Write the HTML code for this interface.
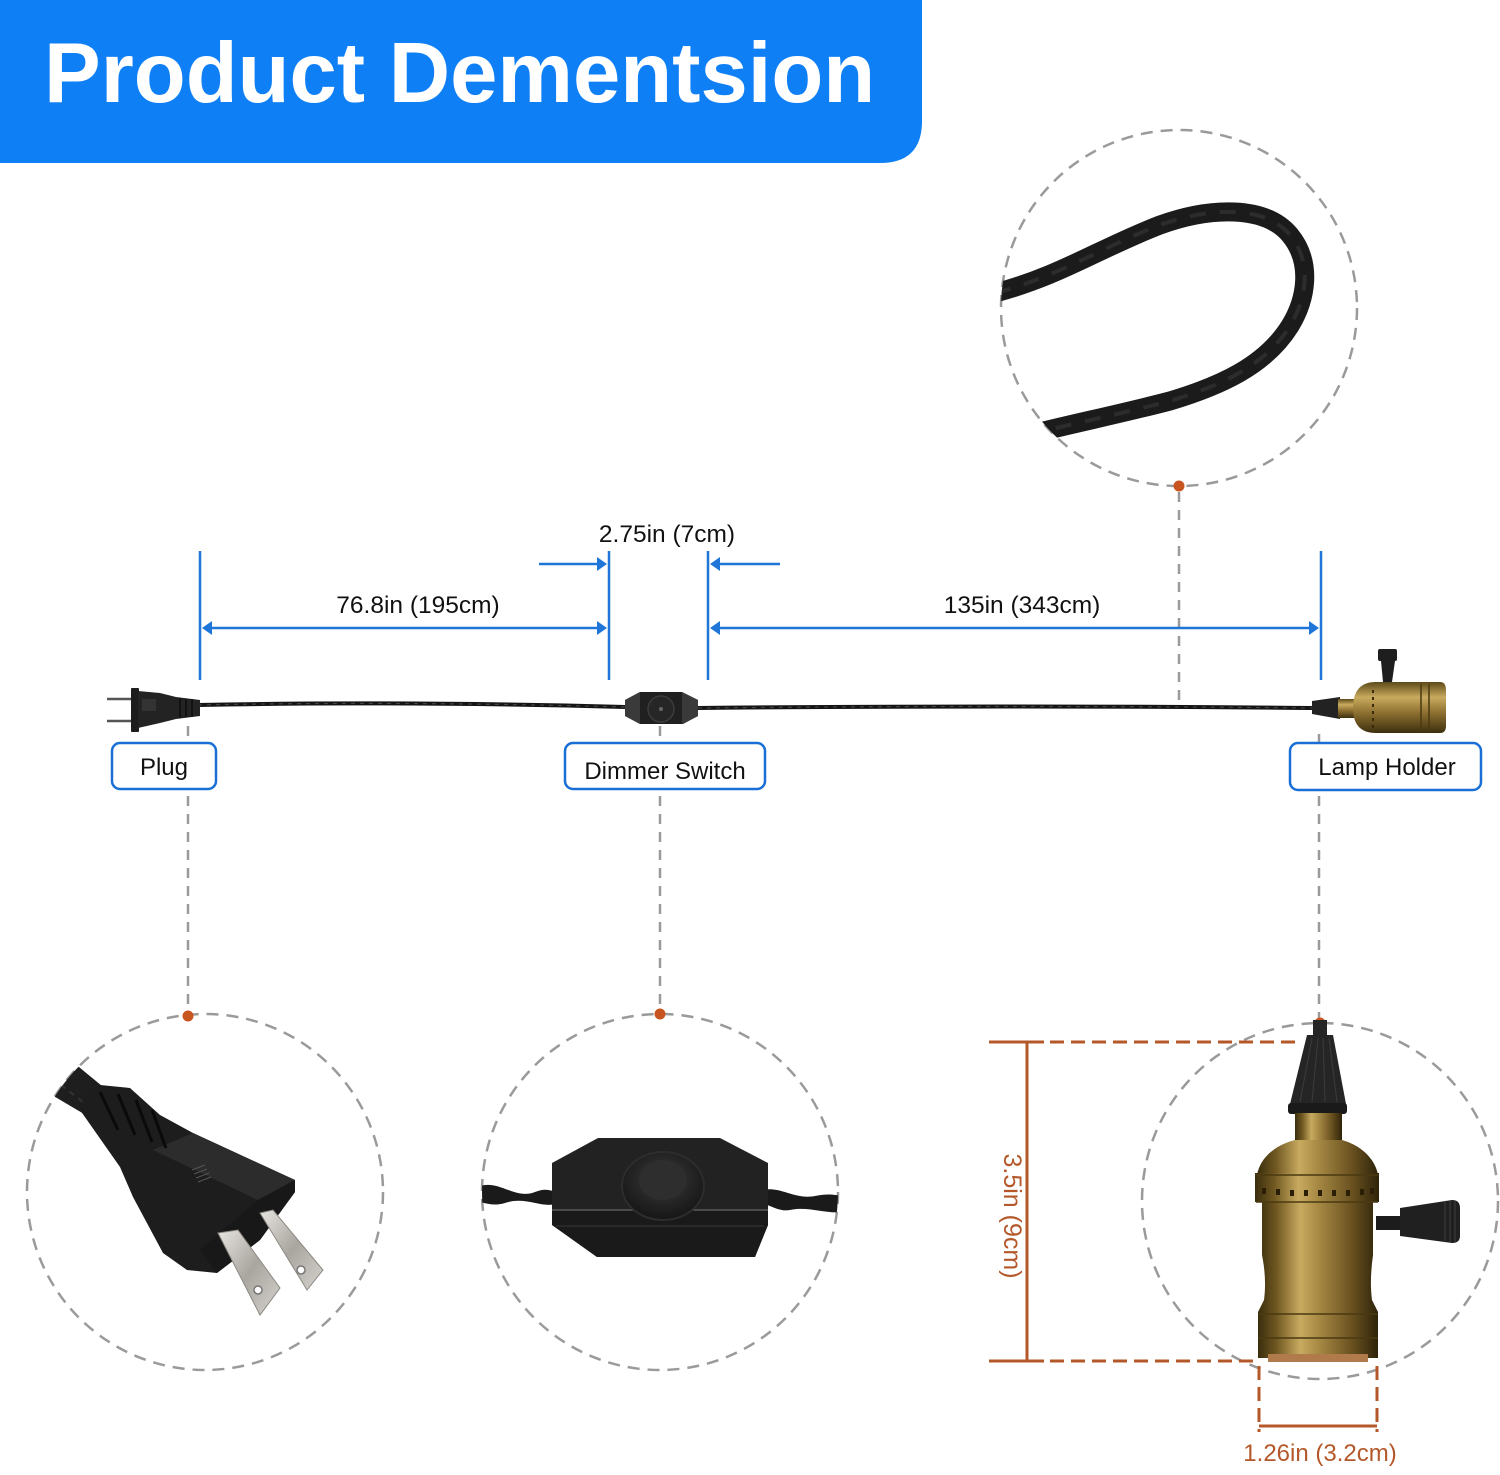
<!DOCTYPE html>
<html>
<head>
<meta charset="utf-8">
<style>
  html, body { margin:0; padding:0; background:#ffffff; }
  body { width:1500px; height:1475px; overflow:hidden; }
  svg { display:block; }
  text { font-family: "Liberation Sans", Arial, sans-serif; }
</style>
</head>
<body>
<svg width="1500" height="1475" viewBox="0 0 1500 1475" xmlns="http://www.w3.org/2000/svg">
  <defs>
    <linearGradient id="goldH" x1="0" y1="0" x2="1" y2="0">
      <stop offset="0" stop-color="#3b2e0e"/>
      <stop offset="0.15" stop-color="#6e5620"/>
      <stop offset="0.35" stop-color="#c8aa60"/>
      <stop offset="0.5" stop-color="#a88a45"/>
      <stop offset="0.78" stop-color="#6a5220"/>
      <stop offset="1" stop-color="#2e230a"/>
    </linearGradient>
    <linearGradient id="goldV" x1="0" y1="0" x2="0" y2="1">
      <stop offset="0" stop-color="#5e4a18"/>
      <stop offset="0.3" stop-color="#c9ab5f"/>
      <stop offset="0.6" stop-color="#8e7031"/>
      <stop offset="1" stop-color="#3d2f0e"/>
    </linearGradient>
    <linearGradient id="metal" x1="0" y1="0" x2="1" y2="1">
      <stop offset="0" stop-color="#e8e6e2"/>
      <stop offset="0.5" stop-color="#a9a59f"/>
      <stop offset="1" stop-color="#d6d3ce"/>
    </linearGradient>
    <radialGradient id="knobG" cx="0.5" cy="0.4" r="0.6">
      <stop offset="0" stop-color="#3a3a3a"/>
      <stop offset="1" stop-color="#161616"/>
    </radialGradient>
    <clipPath id="topClip"><circle cx="1179" cy="308" r="178"/></clipPath>
    <clipPath id="plugClip"><circle cx="205" cy="1192" r="178"/></clipPath>
    <clipPath id="dimClip"><circle cx="660" cy="1192" r="178"/></clipPath>
  </defs>

  <!-- Header -->
  <path d="M0,0 H922 V121 Q922,163 880,163 H0 Z" fill="#0f7ff6"/>
  <text x="44" y="102" font-size="85" font-weight="bold" fill="#ffffff">Product Dementsion</text>

  <!-- Dashed circles -->
  <g fill="none" stroke="#9a9a9a" stroke-width="2.5" stroke-dasharray="12 8">
    <circle cx="1179" cy="308" r="178"/>
    <circle cx="205" cy="1192" r="178"/>
    <circle cx="660" cy="1192" r="178"/>
    <circle cx="1320" cy="1201" r="178"/>
  </g>

  <!-- Gray dashed connectors -->
  <g stroke="#9a9a9a" stroke-width="2.5" stroke-dasharray="10 8" fill="none">
    <line x1="1179" y1="492" x2="1179" y2="705"/>
    <line x1="188" y1="726" x2="188" y2="740"/>
    <line x1="188" y1="796" x2="188" y2="1012"/>
    <line x1="660" y1="726" x2="660" y2="740"/>
    <line x1="660" y1="796" x2="660" y2="1010"/>
    <line x1="1319" y1="734" x2="1319" y2="742"/>
    <line x1="1319" y1="796" x2="1319" y2="1018"/>
  </g>

  <!-- Orange dots -->
  <g fill="#c8541f">
    <circle cx="1179" cy="486" r="5.5"/>
    <circle cx="188" cy="1016" r="5.5"/>
    <circle cx="660" cy="1014" r="5.5"/>
    <circle cx="1320" cy="1023" r="5.5"/>
  </g>

  <!-- Top circle: twisted cable -->
  <g clip-path="url(#topClip)">
    <path d="M995,293 C1060,276 1100,248 1160,225 C1210,207 1265,205 1290,235 C1313,263 1306,300 1290,326 C1265,366 1220,386 1170,401 C1120,414 1080,422 1040,432"
          fill="none" stroke="#1b1b1b" stroke-width="19" stroke-linecap="butt"/>
    <path d="M995,293 C1060,276 1100,248 1160,225 C1210,207 1265,205 1290,235 C1313,263 1306,300 1290,326 C1265,366 1220,386 1170,401 C1120,414 1080,422 1040,432"
          fill="none" stroke="#2c2c2c" stroke-width="4" stroke-dasharray="16 14"/>
  </g>

  <!-- Blue dimension lines -->
  <g stroke="#1f76d8" stroke-width="2.5" fill="none">
    <line x1="200" y1="551" x2="200" y2="680"/>
    <line x1="609" y1="551" x2="609" y2="680"/>
    <line x1="708" y1="551" x2="708" y2="680"/>
    <line x1="1321" y1="551" x2="1321" y2="680"/>
    <line x1="206" y1="628" x2="603" y2="628"/>
    <line x1="714" y1="628" x2="1315" y2="628"/>
    <line x1="539" y1="564" x2="600" y2="564"/>
    <line x1="716" y1="564" x2="780" y2="564"/>
  </g>
  <g fill="#1f76d8">
    <polygon points="202,628 212,621 212,635"/>
    <polygon points="607,628 597,621 597,635"/>
    <polygon points="710,628 720,621 720,635"/>
    <polygon points="1319,628 1309,621 1309,635"/>
    <polygon points="607,564 597,557 597,571"/>
    <polygon points="710,564 720,557 720,571"/>
  </g>

  <!-- Dimension texts -->
  <g font-size="24.5" fill="#111111" text-anchor="middle">
    <text x="418" y="613">76.8in (195cm)</text>
    <text x="667" y="542">2.75in (7cm)</text>
    <text x="1022" y="613">135in (343cm)</text>
  </g>

  <!-- Main cable -->
  <path d="M198,705 Q400,701 625,707" fill="none" stroke="#151515" stroke-width="4"/>
  <path d="M698,708 Q1000,705 1314,708" fill="none" stroke="#151515" stroke-width="4"/>
  <path d="M198,705 Q400,701 625,707" fill="none" stroke="#444" stroke-width="1.2" stroke-dasharray="4 5"/>
  <path d="M698,708 Q1000,705 1314,708" fill="none" stroke="#444" stroke-width="1.2" stroke-dasharray="4 5"/>

  <!-- Small plug -->
  <g>
    <line x1="107" y1="699" x2="133" y2="699" stroke="#555" stroke-width="2.5"/>
    <line x1="107" y1="721" x2="133" y2="721" stroke="#555" stroke-width="2.5"/>
    <rect x="131" y="688" width="8" height="44" rx="1" fill="#1c1c1c"/>
    <polygon points="138,691 160,693 176,697 200,700 200,716 176,719 160,723 138,728" fill="#232323"/>
    <g stroke="#0c0c0c" stroke-width="1.5">
      <line x1="180" y1="698" x2="180" y2="718"/>
      <line x1="186" y1="699" x2="186" y2="717"/>
      <line x1="192" y1="699" x2="192" y2="717"/>
    </g>
    <rect x="142" y="699" width="14" height="12" fill="#333"/>
  </g>

  <!-- Small dimmer -->
  <g>
    <polygon points="640,692 682,692 698,700 698,716 683,724 640,724 625,716 625,700" fill="#202020"/>
    <polygon points="625,700 640,692 640,724 625,716" fill="#3a3a3a"/>
    <polygon points="698,700 682,692 682,724 698,716" fill="#3a3a3a"/>
    <circle cx="661" cy="709" r="13" fill="#262626" stroke="#3c3c3c" stroke-width="1.5"/>
    <circle cx="661" cy="709" r="2" fill="#666"/>
  </g>

  <!-- Small lamp holder -->
  <g>
    <polygon points="1312,701 1340,697 1340,719 1312,714" fill="#222"/>
    <rect x="1338" y="699" width="16" height="19" fill="url(#goldV)"/>
    <path d="M1376,682 H1440 Q1446,682 1446,690 V726 Q1446,733 1440,733 H1376 Q1353,733 1353,708 Q1353,682 1376,682 Z" fill="url(#goldV)"/>
    <g stroke="#4a3910" stroke-width="1.5">
      <line x1="1421" y1="684" x2="1421" y2="731"/>
      <line x1="1429" y1="684" x2="1429" y2="731"/>
    </g>
    <g fill="#3a2c0a">
      <rect x="1372" y="690" width="2" height="3"/>
      <rect x="1372" y="697" width="2" height="3"/>
      <rect x="1372" y="704" width="2" height="3"/>
      <rect x="1372" y="711" width="2" height="3"/>
      <rect x="1372" y="718" width="2" height="3"/>
      <rect x="1372" y="725" width="2" height="3"/>
    </g>
    <polygon points="1383,682 1392,682 1395,661 1381,661" fill="#1e1e1e"/>
    <rect x="1378" y="649" width="19" height="12" rx="2" fill="#1e1e1e"/>
  </g>

  <!-- Labels -->
  <g fill="#ffffff" stroke="#1a6fd6" stroke-width="2.5">
    <rect x="112" y="743" width="104" height="46" rx="8"/>
    <rect x="565" y="743" width="200" height="46" rx="8"/>
    <rect x="1290" y="743" width="191" height="47" rx="8"/>
  </g>
  <g font-size="24" fill="#111111" text-anchor="middle">
    <text x="164" y="775">Plug</text>
    <text x="665" y="779">Dimmer Switch</text>
    <text x="1387" y="775">Lamp Holder</text>
  </g>

  <!-- Large plug -->
  <g clip-path="url(#plugClip)">
    <polygon points="40,1088 68,1058 102,1086 84,1114" fill="#1e1e1e"/>
    <line x1="52" y1="1078" x2="88" y2="1106" stroke="#333" stroke-width="2" stroke-dasharray="6 5"/>
    <polygon points="120,1167 80,1110 85,1093 100,1085 130,1088 160,1115 193,1133 295,1180 295,1192 260,1240 217,1273 187,1270 163,1253 133,1197" fill="#1d1d1d"/>
    <polygon points="153,1150 193,1133 295,1180 258,1200" fill="#2c2c2c"/>
    <polygon points="258,1200 295,1180 295,1192 260,1240 217,1273 200,1250" fill="#181818"/>
    <g stroke="#0a0a0a" stroke-width="3">
      <line x1="100" y1="1092" x2="118" y2="1130"/>
      <line x1="118" y1="1094" x2="135" y2="1135"/>
      <line x1="136" y1="1100" x2="152" y2="1142"/>
      <line x1="152" y1="1110" x2="166" y2="1148"/>
    </g>
    <g stroke="#555" stroke-width="1">
      <line x1="192" y1="1170" x2="205" y2="1165"/>
      <line x1="194" y1="1174" x2="207" y2="1169"/>
      <line x1="196" y1="1178" x2="209" y2="1173"/>
      <line x1="198" y1="1182" x2="211" y2="1177"/>
    </g>
    <polygon points="218,1233 238,1230 280,1288 260,1315" fill="url(#metal)" stroke="#8c8882" stroke-width="1"/>
    <polygon points="260,1213 273,1210 323,1270 307,1290" fill="url(#metal)" stroke="#8c8882" stroke-width="1"/>
    <circle cx="258" cy="1290" r="4" fill="#fff" stroke="#777" stroke-width="1.5"/>
    <circle cx="301" cy="1270" r="4" fill="#fff" stroke="#777" stroke-width="1.5"/>
  </g>

  <!-- Large dimmer -->
  <g clip-path="url(#dimClip)">
    <path d="M480,1186 C500,1180 515,1200 535,1192 C545,1188 550,1190 556,1192 L556,1204 C540,1208 525,1196 505,1203 C495,1206 488,1204 480,1202 Z" fill="#1a1a1a"/>
    <path d="M764,1190 C780,1186 795,1200 815,1196 C825,1194 832,1194 842,1196 L842,1212 C825,1214 808,1206 790,1210 C780,1212 772,1206 764,1204 Z" fill="#1a1a1a"/>
  </g>
  <polygon points="598,1138 720,1138 768,1163 768,1225 755,1257 597,1257 552,1225 552,1163" fill="#222222"/>
  <polygon points="552,1210 768,1210 768,1225 755,1257 597,1257 552,1225" fill="#1a1a1a"/>
  <line x1="552" y1="1210" x2="768" y2="1210" stroke="#4a4a4a" stroke-width="2"/>
  <line x1="556" y1="1226" x2="764" y2="1226" stroke="#2e2e2e" stroke-width="1.5"/>
  <ellipse cx="663" cy="1186" rx="41" ry="34" fill="url(#knobG)" stroke="#2d2d2d" stroke-width="2"/>
  <ellipse cx="663" cy="1180" rx="24" ry="20" fill="#2e2e2e"/>

  <!-- Large lamp holder -->
  <g>
    <rect x="1313" y="1020" width="14" height="16" fill="#262626"/>
    <polygon points="1307,1035 1333,1035 1346,1104 1290,1104" fill="#252525"/>
    <g stroke="#3c3c3c" stroke-width="1">
      <line x1="1312" y1="1038" x2="1300" y2="1102"/>
      <line x1="1318" y1="1038" x2="1312" y2="1102"/>
      <line x1="1323" y1="1038" x2="1325" y2="1102"/>
      <line x1="1329" y1="1038" x2="1337" y2="1102"/>
    </g>
    <rect x="1288" y="1103" width="59" height="11" rx="3" fill="#1a1a1a"/>
    <rect x="1295" y="1113" width="47" height="35" fill="url(#goldH)"/>
    <path d="M1295,1140 C1275,1145 1260,1158 1257,1175 L1378,1175 C1375,1158 1360,1145 1342,1140 Z" fill="url(#goldH)"/>
    <rect x="1255" y="1173" width="124" height="29" fill="url(#goldH)"/>
    <g fill="#2a1f06">
      <rect x="1262" y="1188" width="4" height="6"/>
      <rect x="1276" y="1189" width="4" height="6"/>
      <rect x="1290" y="1190" width="4" height="6"/>
      <rect x="1304" y="1190" width="4" height="6"/>
      <rect x="1318" y="1190" width="4" height="6"/>
      <rect x="1332" y="1190" width="4" height="6"/>
      <rect x="1346" y="1190" width="4" height="6"/>
      <rect x="1360" y="1189" width="4" height="6"/>
      <rect x="1370" y="1188" width="4" height="6"/>
    </g>
    <path d="M1262,1202 L1373,1202 L1373,1255 C1371,1270 1370,1285 1372,1300 L1378,1312 L1378,1358 L1258,1358 L1258,1312 L1264,1300 C1266,1285 1265,1270 1262,1255 Z" fill="url(#goldH)"/>
    <g stroke="#4a3910" stroke-width="1.5" fill="none">
      <line x1="1255" y1="1175" x2="1379" y2="1175"/>
      <line x1="1256" y1="1202" x2="1378" y2="1202"/>
      <line x1="1258" y1="1314" x2="1378" y2="1314"/>
      <line x1="1258" y1="1338" x2="1378" y2="1338"/>
    </g>
    <rect x="1268" y="1354" width="100" height="8" fill="#b07a4a"/>
    <rect x="1376" y="1216" width="26" height="14" fill="#1c1c1c"/>
    <path d="M1400,1208 L1452,1200 Q1460,1200 1460,1208 L1460,1236 Q1460,1243 1452,1243 L1400,1236 Z" fill="#202020"/>
    <g stroke="#3a3a3a" stroke-width="1.2">
      <line x1="1445" y1="1202" x2="1445" y2="1241"/>
      <line x1="1450" y1="1201" x2="1450" y2="1242"/>
      <line x1="1455" y1="1201" x2="1455" y2="1242"/>
    </g>
  </g>

  <!-- Orange dimensions -->
  <g stroke="#b4582a" stroke-width="3" fill="none">
    <line x1="989" y1="1042" x2="1044" y2="1042"/>
    <line x1="989" y1="1361" x2="1044" y2="1361"/>
    <line x1="1027" y1="1042" x2="1027" y2="1361"/>
    <line x1="1259" y1="1426" x2="1377" y2="1426"/>
  </g>
  <g stroke="#b4582a" stroke-width="3" fill="none" stroke-dasharray="14 7">
    <line x1="1050" y1="1042" x2="1296" y2="1042"/>
    <line x1="1050" y1="1361" x2="1258" y2="1361"/>
    <line x1="1259" y1="1366" x2="1259" y2="1432"/>
    <line x1="1377" y1="1366" x2="1377" y2="1432"/>
  </g>
  <text x="1320" y="1461" font-size="24" fill="#b4582a" text-anchor="middle">1.26in (3.2cm)</text>
  <text x="0" y="0" font-size="25" fill="#b4582a" text-anchor="middle" transform="translate(1004,1216) rotate(90)">3.5in (9cm)</text>
</svg>
</body>
</html>
